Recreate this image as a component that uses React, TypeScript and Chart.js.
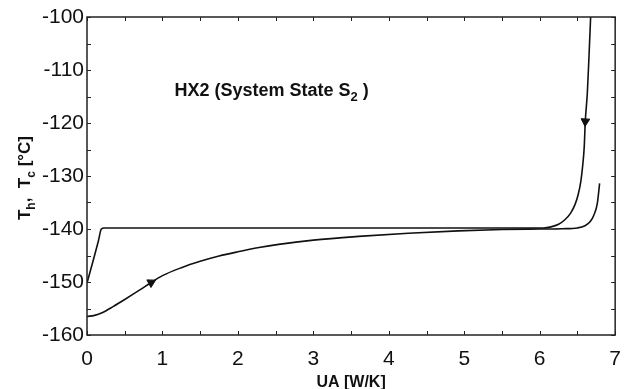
import React, { useEffect, useRef } from "react";
import { Chart, registerables } from "chart.js";
Chart.register(...registerables);

// Hot stream temperature T_h vs UA
const hotUA = [0, 0.05, 0.1, 0.15, 0.19, 0.23, 1, 2, 3, 4, 5, 6.05, 6.15, 6.25, 6.33, 6.41, 6.47, 6.51, 6.545, 6.57, 6.59, 6.604, 6.631, 6.653, 6.675];
const hotT = [-150.2, -147.6, -145.0, -142.3, -140.0, -139.8, -139.8, -139.8, -139.8, -139.8, -139.8, -139.8, -139.6, -139.1, -138.3, -137.0, -135.3, -133.5, -131.0, -128.0, -124.5, -119.7, -114.4, -107.5, -100.0];

// Cold stream temperature T_c vs UA
const coldUA = [0, 0.1, 0.2, 0.35, 0.5, 0.7, 0.85, 1.0, 1.25, 1.5, 1.75, 2.0, 2.28, 2.54, 3.0, 3.6, 4.26, 4.92, 5.5, 6.0, 6.3, 6.5, 6.6, 6.67, 6.72, 6.763, 6.794];
const coldT = [-156.5, -156.3, -155.8, -154.6, -153.3, -151.5, -150.1, -148.8, -147.3, -146.1, -145.1, -144.3, -143.5, -142.9, -142.1, -141.4, -140.8, -140.35, -140.1, -140.0, -139.95, -139.8, -139.4, -138.6, -137.3, -135.2, -131.4];

// Direction arrows on the curves
const arrowUA = [0.85, 6.604];
const arrowT = [-150.1, -119.7];
const arrowAngle = [62, 183];

// Axis ticks
const xMin = 0, xMax = 7, xStep = 1, xMinor = 0.5;
const yMin = -160, yMax = -100, yStep = 10, yMinor = 5;

// Annotation
const noteUA = 1.16;
const noteT = -114.9;

const FONT = "'Liberation Sans', Arial, Helvetica, sans-serif";

type Seg = { t: string; sub?: boolean };

function drawRich(ctx: CanvasRenderingContext2D, segs: Seg[], x: number, y: number, size: number, align: "left" | "center") {
  const subSize = Math.round(size * 0.7);
  const widths = segs.map((s) => {
    ctx.font = `bold ${s.sub ? subSize : size}px ${FONT}`;
    return ctx.measureText(s.t).width;
  });
  const total = widths.reduce((a, b) => a + b, 0);
  let cx = align === "center" ? x - total / 2 : x;
  ctx.textAlign = "left";
  ctx.textBaseline = "alphabetic";
  segs.forEach((s, i) => {
    ctx.font = `bold ${s.sub ? subSize : size}px ${FONT}`;
    ctx.fillText(s.t, cx, s.sub ? y + size * 0.28 : y);
    cx += widths[i];
  });
}

const framePlugin = {
  id: "frame",
  afterDatasetsDraw(chart: any) {
    const { ctx, chartArea: a, scales } = chart;
    const xs = scales.x, ys = scales.y;
    ctx.save();
    ctx.strokeStyle = "#222";
    ctx.lineWidth = 1.5;
    ctx.strokeRect(a.left, a.top, a.right - a.left, a.bottom - a.top);
    ctx.lineWidth = 1;
    const tl = 4;
    ctx.beginPath();
    for (let v = xMin; v <= xMax + 1e-9; v += xMinor) {
      const px = Math.round(xs.getPixelForValue(v)) + 0.5;
      ctx.moveTo(px, a.bottom);
      ctx.lineTo(px, a.bottom - tl);
      ctx.moveTo(px, a.top);
      ctx.lineTo(px, a.top + tl);
    }
    for (let v = yMin; v <= yMax + 1e-9; v += yMinor) {
      const py = Math.round(ys.getPixelForValue(v)) + 0.5;
      ctx.moveTo(a.left, py);
      ctx.lineTo(a.left + tl, py);
      ctx.moveTo(a.right, py);
      ctx.lineTo(a.right - tl, py);
    }
    ctx.stroke();

    ctx.fillStyle = "#111";
    // annotation
    drawRich(ctx, [{ t: "HX2 (System State S" }, { t: "2", sub: true }, { t: " )" }], xs.getPixelForValue(noteUA), ys.getPixelForValue(noteT), 18, "left");
    // x title
    drawRich(ctx, [{ t: "UA [W/K]" }], (a.left + a.right) / 2, 387, 16, "center");
    // y title
    ctx.save();
    ctx.translate(30, (a.top + a.bottom) / 2 + 2);
    ctx.rotate(-Math.PI / 2);
    drawRich(ctx, [{ t: "T" }, { t: "h", sub: true }, { t: ",  T" }, { t: "c", sub: true }, { t: " [°C]" }], 0, 0, 17, "center");
    ctx.restore();
    ctx.restore();
  },
};

export default function App() {
  const ref = useRef<HTMLCanvasElement>(null);
  useEffect(() => {
    if (!ref.current) return;
    const chart = new Chart(ref.current, {
      type: "scatter",
      data: {
        datasets: [
          {
            label: "Th",
            data: hotUA.map((x, i) => ({ x, y: hotT[i] })),
            showLine: true,
            borderColor: "#111",
            borderWidth: 1.6,
            pointRadius: 0,
            cubicInterpolationMode: "monotone",
          },
          {
            label: "Tc",
            data: coldUA.map((x, i) => ({ x, y: coldT[i] })),
            showLine: true,
            borderColor: "#111",
            borderWidth: 1.6,
            pointRadius: 0,
            cubicInterpolationMode: "monotone",
          },
          {
            label: "arrows",
            data: arrowUA.map((x, i) => ({ x, y: arrowT[i] })),
            showLine: false,
            pointStyle: "triangle",
            pointRadius: 5,
            pointRotation: arrowAngle,
            backgroundColor: "#111",
            borderColor: "#111",
            borderWidth: 1,
          } as any,
        ],
      },
      options: {
        animation: false,
        responsive: true,
        maintainAspectRatio: false,
        layout: { padding: { left: 0, top: 17, right: 15, bottom: 0 } },
        plugins: { legend: { display: false }, tooltip: { enabled: false } },
        scales: {
          x: {
            type: "linear",
            min: xMin,
            max: xMax,
            grid: { display: false, drawTicks: false },
            border: { display: false },
            ticks: { stepSize: xStep, color: "#111", padding: 12, font: { family: FONT, size: 21 }, maxRotation: 0 },
            afterFit: (s: any) => { s.height = 54; },
          },
          y: {
            type: "linear",
            min: yMin,
            max: yMax,
            grid: { display: false, drawTicks: false },
            border: { display: false },
            ticks: { stepSize: yStep, color: "#111", padding: 3, font: { family: FONT, size: 21 } },
            afterFit: (s: any) => { s.width = 87; },
          },
        },
      },
      plugins: [framePlugin],
    });
    return () => chart.destroy();
  }, []);
  return (
    <div style={{ position: "absolute", left: 0, top: 0, width: 633, height: 389, background: "#fff" }}>
      <canvas ref={ref} />
    </div>
  );
}
